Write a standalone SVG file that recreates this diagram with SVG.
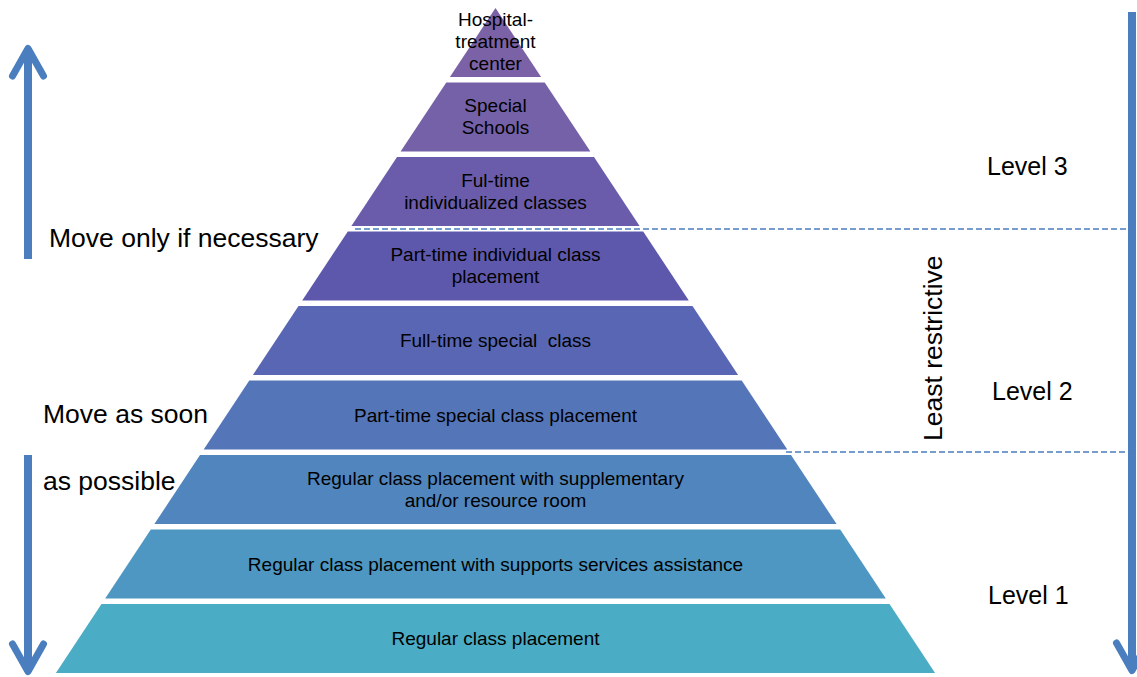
<svg xmlns="http://www.w3.org/2000/svg" width="1137" height="677" viewBox="0 0 1137 677">
  <style>
    .lbl { font-family: "Liberation Sans", Arial, sans-serif; font-size: 19px; fill: #000; text-anchor: middle; }
    .side { font-family: "Liberation Sans", Arial, sans-serif; font-size: 26.5px; fill: #000; }
    .lvl { font-family: "Liberation Sans", Arial, sans-serif; font-size: 25px; fill: #000; }
    .shaft { stroke: #4a7ebf; stroke-width: 8; fill: none; }
    .head { stroke: #4a7ebf; stroke-width: 7; fill: none; stroke-linecap: round; stroke-linejoin: round; }
    .dash { stroke: #4a7ebf; stroke-width: 1.6; stroke-dasharray: 6 3; fill: none; }
  </style>
  <rect width="1137" height="677" fill="#ffffff"/>

  <!-- pyramid tiers, top to bottom -->
  <g id="tier-hospital">
    <polygon points="495.5,8 541.1,77 449.9,77" fill="#7b62a6"/>
    <text class="lbl" x="495.5" y="26">Hospital-</text>
    <text class="lbl" x="495.5" y="48">treatment</text>
    <text class="lbl" x="495.5" y="70">center</text>
  </g>
  <g id="tier-special-schools">
    <polygon points="446.3,82.5 544.7,82.5 590.4,151.5 400.6,151.5" fill="#7561a8"/>
    <text class="lbl" x="495.5" y="112">Special</text>
    <text class="lbl" x="495.5" y="134">Schools</text>
  </g>
  <g id="tier-fulltime-individualized">
    <polygon points="397,157 594,157 639.6,226 351.4,226" fill="#6a5caa"/>
    <text class="lbl" x="495.5" y="187">Ful-time</text>
    <text class="lbl" x="495.5" y="209">individualized classes</text>
  </g>
  <g id="tier-parttime-individual">
    <polygon points="347.8,231.5 643.2,231.5 688.8,300.5 302.2,300.5" fill="#5e58ad"/>
    <text class="lbl" x="495.5" y="261">Part-time individual class</text>
    <text class="lbl" x="495.5" y="283">placement</text>
  </g>
  <g id="tier-fulltime-special">
    <polygon points="298.5,306 692.5,306 738.1,375 252.9,375" fill="#5966b3"/>
    <text class="lbl" x="495.5" y="347" xml:space="preserve">Full-time special  class</text>
  </g>
  <g id="tier-parttime-special">
    <polygon points="249.3,380.5 741.7,380.5 787.3,449.5 203.7,449.5" fill="#5575b9"/>
    <text class="lbl" x="495.5" y="421.5">Part-time special class placement</text>
  </g>
  <g id="tier-regular-supplementary">
    <polygon points="200,455 791,455 836.6,524 154.4,524" fill="#5185be"/>
    <text class="lbl" x="495.5" y="485">Regular class placement with supplementary</text>
    <text class="lbl" x="495.5" y="507">and/or resource room</text>
  </g>
  <g id="tier-regular-supports">
    <polygon points="150.8,529.5 840.2,529.5 885.8,598.5 105.2,598.5" fill="#4d97c2"/>
    <text class="lbl" x="495.5" y="570.5">Regular class placement with supports services assistance</text>
  </g>
  <g id="tier-regular">
    <polygon points="101.5,604 889.5,604 935.1,673 55.9,673" fill="#4aacc5"/>
    <text class="lbl" x="495.5" y="645">Regular class placement</text>
  </g>

  <!-- arrows and level dividers -->
  <g id="connectors">
    <line class="shaft" x1="28" y1="259" x2="28" y2="50"/>
    <polyline class="head" points="12.5,76 28,48.5 43.5,76"/>
    <line class="shaft" x1="28" y1="455" x2="28" y2="668"/>
    <polyline class="head" points="12.5,644 28,671.5 43.5,644"/>
    <line class="shaft" x1="1132" y1="12" x2="1132" y2="668"/>
    <polyline class="head" points="1116.5,643 1132,670.5 1147.5,643"/>
    <line class="dash" x1="355" y1="229" x2="1128" y2="229"/>
    <line class="dash" x1="786" y1="452" x2="1137" y2="452"/>
  </g>

  <g id="side-labels">
    <text class="side" x="49" y="247">Move only if necessary</text>
    <text class="side" x="43" y="423">Move as soon</text>
    <text class="side" x="43" y="490">as possible</text>
    <text class="side" transform="translate(942,441) rotate(-90)">Least restrictive</text>
    <text class="lvl" x="987" y="175">Level 3</text>
    <text class="lvl" x="992" y="400">Level 2</text>
    <text class="lvl" x="988" y="604">Level 1</text>
  </g>
</svg>
